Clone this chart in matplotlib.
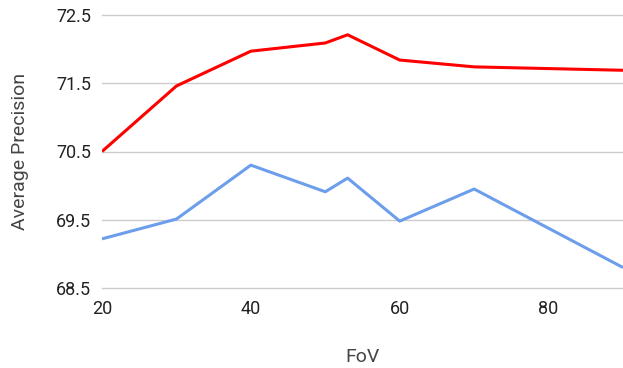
import matplotlib
matplotlib.use("Agg")
import matplotlib.pyplot as plt

fov = [20, 30, 40, 50, 53, 60, 70, 90]
ap_red = [70.50, 71.46, 71.97, 72.09, 72.21, 71.84, 71.74, 71.69]
ap_blue = [69.22, 69.51, 70.30, 69.91, 70.11, 69.48, 69.95, 68.80]

yticks = [68.5, 69.5, 70.5, 71.5, 72.5]
xticks = [20, 40, 60, 80]

plt.rcParams['font.family'] = ['Roboto', 'DejaVu Sans']

fig = plt.figure(figsize=(6.23, 3.68), dpi=100)
ax = fig.add_axes([102 / 623, 1 - 288 / 368, 521 / 623, 273 / 368])

ax.plot(fov, ap_blue, color='#6d9eeb', linewidth=2.2, solid_capstyle='butt', zorder=3)
ax.plot(fov, ap_red, color='#ff0000', linewidth=2.2, solid_capstyle='butt', zorder=3)

ax.set_xlim(20, 90)
ax.set_ylim(68.5, 72.5)
ax.set_yticks(yticks)
ax.set_yticklabels([f"{v:.1f}" for v in yticks])
ax.set_xticks(xticks)

ax.grid(axis='y', color='#cccccc', linewidth=1)
for gl in ax.get_ygridlines():
    gl.set_clip_on(False)
ax.set_axisbelow(True)
for s in ax.spines.values():
    s.set_visible(False)
ax.tick_params(length=0, labelsize=13, colors='#222222', pad=8)
ax.tick_params(axis='x', pad=9)

ax.set_xlabel("FoV", fontsize=14, color='#444444', labelpad=21)
ax.set_ylabel("Average Precision", fontsize=14, color='#444444', labelpad=19)

fig.savefig("out.png", dpi=100)
